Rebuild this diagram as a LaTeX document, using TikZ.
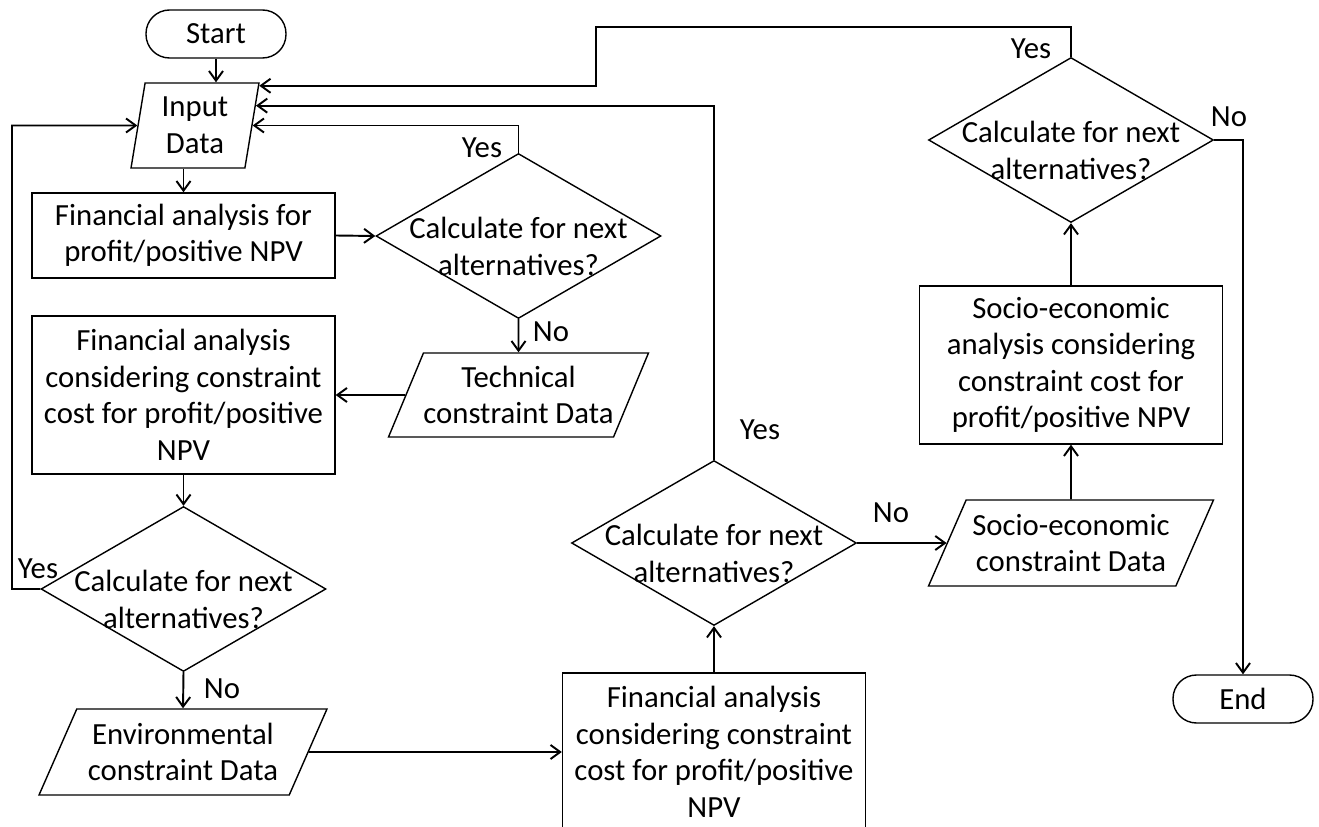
\documentclass[tikz,border=0pt]{standalone}
\usepackage{fontspec}
\setmainfont{Carlito}
\usetikzlibrary{shapes.geometric,arrows.meta,calc}

\begin{document}
\begin{tikzpicture}[x=0.02cm,y=-0.02cm,
	every node/.style={font=\fontsize{17.5}{20.8}\selectfont},
	term/.style={draw,line width=0.8pt,rounded corners=0.47cm,minimum width=2.8cm,minimum height=0.96cm,inner sep=0pt},
	proc/.style={draw,line width=0.8pt,align=center,minimum width=6.06cm,inner sep=0pt},
	data/.style={draw,line width=0.8pt,trapezium,trapezium stretches body,align=center,inner sep=0pt},
	decide/.style={draw,line width=0.8pt,diamond,aspect=1.727,align=center,minimum width=5.7cm,minimum height=3.3cm,inner sep=-0.4cm,text height=1.58cm},
	flow/.style={line width=1.1pt,-{Straight Barb[length=5.5pt,width=8pt]}},
	lbl/.style={inner sep=0pt}]
	\clip (0,0) rectangle (1319,827);
	\node[term](start) at (216,34){Start};
	\node[data,trapezium left angle=76,trapezium right angle=104,minimum width=2.56cm,minimum height=1.7cm](input) at (195,125.5){Input\\Data};
	\node[proc,minimum height=1.7cm](f1) at (183.5,235.5){Financial analysis for\\profit/positive NPV};
	\node[decide](d1) at (518.5,236){Calculate for next\\alternatives?};
	\node[data,trapezium left angle=59,trapezium right angle=121,minimum width=5.1cm,minimum height=1.68cm](tech) at (518.5,395){Technical\\constraint Data};
	\node[proc,minimum height=3.16cm](f2) at (183.5,395){Financial analysis\\considering constraint\\cost for profit/positive\\NPV};
	\node[decide](d2) at (183.5,589){Calculate for next\\alternatives?};
	\node[data,trapezium left angle=57,trapezium right angle=123,minimum width=5.76cm,minimum height=1.72cm](env) at (183,752){Environmental\\constraint Data};
	\node[proc,minimum height=3.16cm](f3) at (714,752){Financial analysis\\considering constraint\\cost for profit/positive\\NPV};
	\node[decide](d3) at (714,543){Calculate for next\\alternatives?};
	\node[data,trapezium left angle=57,trapezium right angle=123,minimum width=5.7cm,minimum height=1.72cm](socio) at (1071,543){Socio-economic\\constraint Data};
	\node[proc,minimum height=3.16cm](sbox) at (1071,365){Socio-economic\\analysis considering\\constraint cost for\\profit/positive NPV};
	\node[decide](d4) at (1071,140){Calculate for next\\alternatives?};
	\node[term](end) at (1243,699){End};

	\coordinate (loopl) at (12,125.5);
	\coordinate (jog) at (596,27);
	\coordinate (in1) at ($(input.top right corner)!0.04!(input.bottom right corner)$);
	\coordinate (in2) at ($(input.top right corner)!0.27!(input.bottom right corner)$);

	\draw[flow](start.south) -- (start.south |- input.north);
	\draw[flow](f1.north |- input.south) -- (f1.north);
	\draw[flow](f1.east) -- (d1.west);
	\draw[flow](d1.south) -- (tech.north);
	\draw[flow](tech.west) -- (f2.east);
	\draw[flow](f2.south) -- (d2.north);
	\draw[flow](d2.south) -- (env.north);
	\draw[flow](env.east) -- (f3.west);
	\draw[flow](f3.north) -- (d3.south);
	\draw[flow](d3.east) -- (socio.west);
	\draw[flow](socio.north) -- (sbox.south);
	\draw[flow](sbox.north) -- (d4.south);
	\draw[flow](d4.east) -| (end.north);
	\draw[flow](d1.north) |- (input.east);
	\draw[flow](d2.west) -| (loopl) -- (input.west);
	\draw[flow](d3.north) |- (in2);
	\draw[flow](d4.north) |- (jog) |- (in1);

	\node[lbl](yes1) at (482,148){Yes};
	\node[lbl](no1) at (551,332){No};
	\node[lbl](yes2) at (38,569){Yes};
	\node[lbl](no2) at (222,689){No};
	\node[lbl](yes3) at (760,430){Yes};
	\node[lbl](no3) at (891,513){No};
	\node[lbl](yes4) at (1031,49){Yes};
	\node[lbl](no4) at (1229,117){No};
\end{tikzpicture}
\end{document}
